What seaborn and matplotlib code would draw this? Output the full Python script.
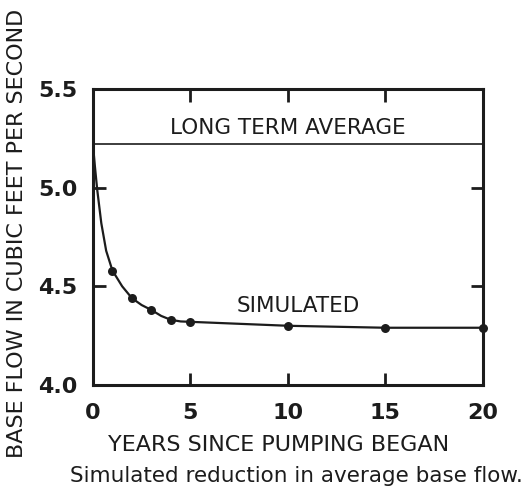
import matplotlib
matplotlib.use("Agg")
import matplotlib.pyplot as plt
import seaborn as sns
import pandas as pd

# Simulated base flow (cubic feet per second) by years since pumping began
marker_years = [1, 2, 3, 4, 5, 10, 15, 20]
marker_flow = [4.58, 4.44, 4.38, 4.33, 4.32, 4.30, 4.29, 4.29]

# Points along the simulated curve, including its steep early drop
curve_years = [0, 0.1, 0.22, 0.43, 0.68, 1, 1.5, 2, 2.5, 3, 3.5, 4, 4.5, 5, 10, 15, 20]
curve_flow = [5.22, 5.11, 4.99, 4.82, 4.68, 4.58, 4.50, 4.44, 4.405, 4.38, 4.35, 4.33, 4.322, 4.32, 4.30, 4.29, 4.29]

long_term_average = 5.22

x_ticks = [0, 5, 10, 15, 20]
y_ticks = [4.0, 4.5, 5.0, 5.5]
y_tick_labels = ["4.0", "4.5", "5.0", "5.5"]

sns.set_theme(style="white")
plt.rcParams["font.family"] = ["DejaVu Sans"]

ink = "#1c1c1c"

fig = plt.figure(figsize=(5.22, 4.97), dpi=100)
ax = fig.add_axes([0.178, 0.2254, 0.747, 0.5956])

curve = pd.DataFrame({"years": curve_years, "flow": curve_flow})
points = pd.DataFrame({"years": marker_years, "flow": marker_flow})

sns.lineplot(data=curve, x="years", y="flow", ax=ax, color=ink, linewidth=1.6,
             estimator=None, sort=False)
sns.scatterplot(data=points, x="years", y="flow", ax=ax, color=ink, s=42,
                edgecolor=ink, linewidth=0, zorder=3, clip_on=False)
ax.axhline(long_term_average, color=ink, linewidth=1.2)

ax.text(10, 5.30, "LONG TERM AVERAGE", ha="center", va="center",
        fontsize=15.5, color=ink)
ax.text(10.55, 4.40, "SIMULATED", ha="center", va="center",
        fontsize=15.5, color=ink)

ax.set_xlim(0, 20)
ax.set_ylim(4.0, 5.5)
ax.set_xticks(x_ticks)
ax.set_xticklabels([str(v) for v in x_ticks], fontsize=16, fontweight="bold",
                   color=ink)
ax.set_yticks(y_ticks)
ax.set_yticklabels(y_tick_labels, fontsize=16, fontweight="bold", color=ink)

ax.tick_params(axis="both", direction="in", length=9, width=2, color=ink,
               top=True, right=True, bottom=True, left=True)
ax.tick_params(axis="x", pad=13)
ax.tick_params(axis="y", pad=11)

for side in ["left", "right", "top", "bottom"]:
    ax.spines[side].set_visible(True)
    ax.spines[side].set_color(ink)
    ax.spines[side].set_linewidth(2.2)

ax.set_xlabel("YEARS SINCE PUMPING BEGAN", fontsize=16, color=ink)
ax.xaxis.set_label_coords(0.477, -0.17)
ax.set_ylabel("BASE FLOW IN CUBIC FEET PER SECOND", fontsize=16, color=ink)
ax.yaxis.set_label_coords(-0.17, 0.512)

fig.text(0.567, 0.042, "Simulated reduction in average base flow.",
         ha="center", va="center", fontsize=15.5, color=ink)

fig.savefig("out.png", dpi=100, facecolor="white")
